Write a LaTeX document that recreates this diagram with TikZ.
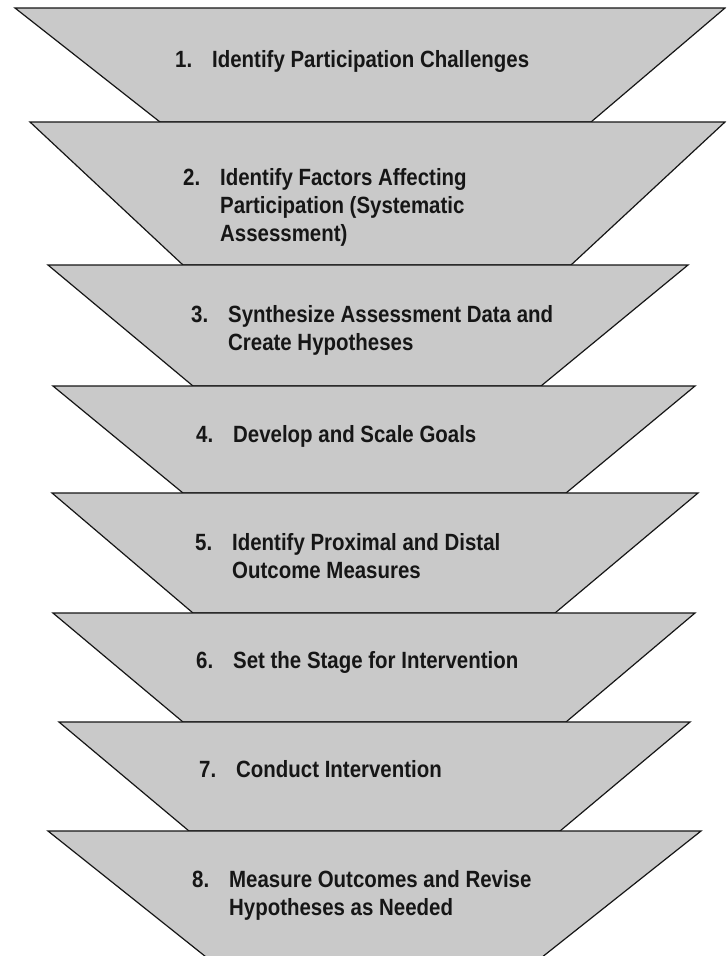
\documentclass[tikz,border=0pt]{standalone}
\usepackage{fontspec}
\setmainfont{Liberation Sans}[FakeStretch=0.87]
\usepackage{array}

\definecolor{stagegrey}{RGB}{201,201,201}
\definecolor{stageink}{RGB}{22,22,22}

% numbered label with a hanging indent; first row sits on the node's baseline
\newcommand{\stagelabel}[2]{%
  \begin{tabular}[t]{@{}p{37pt}@{}l@{}}#1 & #2\end{tabular}}

\tikzset{
  stageshape/.style={fill=stagegrey, draw=stageink, line width=1.2pt, line join=miter},
  stagetext/.style={anchor=base west, inner sep=0pt, text=stageink,
    font=\fontsize{23.5}{28}\selectfont\bfseries},
}

\begin{document}
\begin{tikzpicture}[x=1pt,y=-1pt]
  \useasboundingbox (0,0) rectangle (726,956);
  \clip (0,0) rectangle (726,956);
  \fill[white] (0,0) rectangle (726,956);

  % funnel stages, each an inverted trapezoid sitting on the one below
  \draw[stageshape] (15,8)    -- (725,8)   -- (591,122) -- (160,122) -- cycle;
  \draw[stageshape] (30,122)  -- (725,122) -- (571,265) -- (183,265) -- cycle;
  \draw[stageshape] (48,265)  -- (688,265) -- (541,386) -- (193,386) -- cycle;
  \draw[stageshape] (53,386)  -- (695,386) -- (566,493) -- (183,493) -- cycle;
  \draw[stageshape] (52,493)  -- (698,493) -- (555,613) -- (193,613) -- cycle;
  \draw[stageshape] (53,613)  -- (695,613) -- (566,722) -- (183,722) -- cycle;
  \draw[stageshape] (59,722)  -- (690,722) -- (560,831) -- (189,831) -- cycle;
  \draw[stageshape] (48,831)  -- (701,831) -- (488,1000) -- (260,1000) -- cycle;

  % stage captions
  \node[stagetext] (s1) at (175,67)  {\stagelabel{1.}{Identify Participation Challenges}};
  \node[stagetext] (s2) at (183,185) {\stagelabel{2.}{Identify Factors Affecting\\ & Participation (Systematic\\ & Assessment)}};
  \node[stagetext] (s3) at (191,322) {\stagelabel{3.}{Synthesize Assessment Data and\\ & Create Hypotheses}};
  \node[stagetext] (s4) at (196,442) {\stagelabel{4.}{Develop and Scale Goals}};
  \node[stagetext] (s5) at (195,550) {\stagelabel{5.}{Identify Proximal and Distal\\ & Outcome Measures}};
  \node[stagetext] (s6) at (196,668) {\stagelabel{6.}{Set the Stage for Intervention}};
  \node[stagetext] (s7) at (199,777) {\stagelabel{7.}{Conduct Intervention}};
  \node[stagetext] (s8) at (192,887) {\stagelabel{8.}{Measure Outcomes and Revise\\ & Hypotheses as Needed}};
\end{tikzpicture}
\end{document}
